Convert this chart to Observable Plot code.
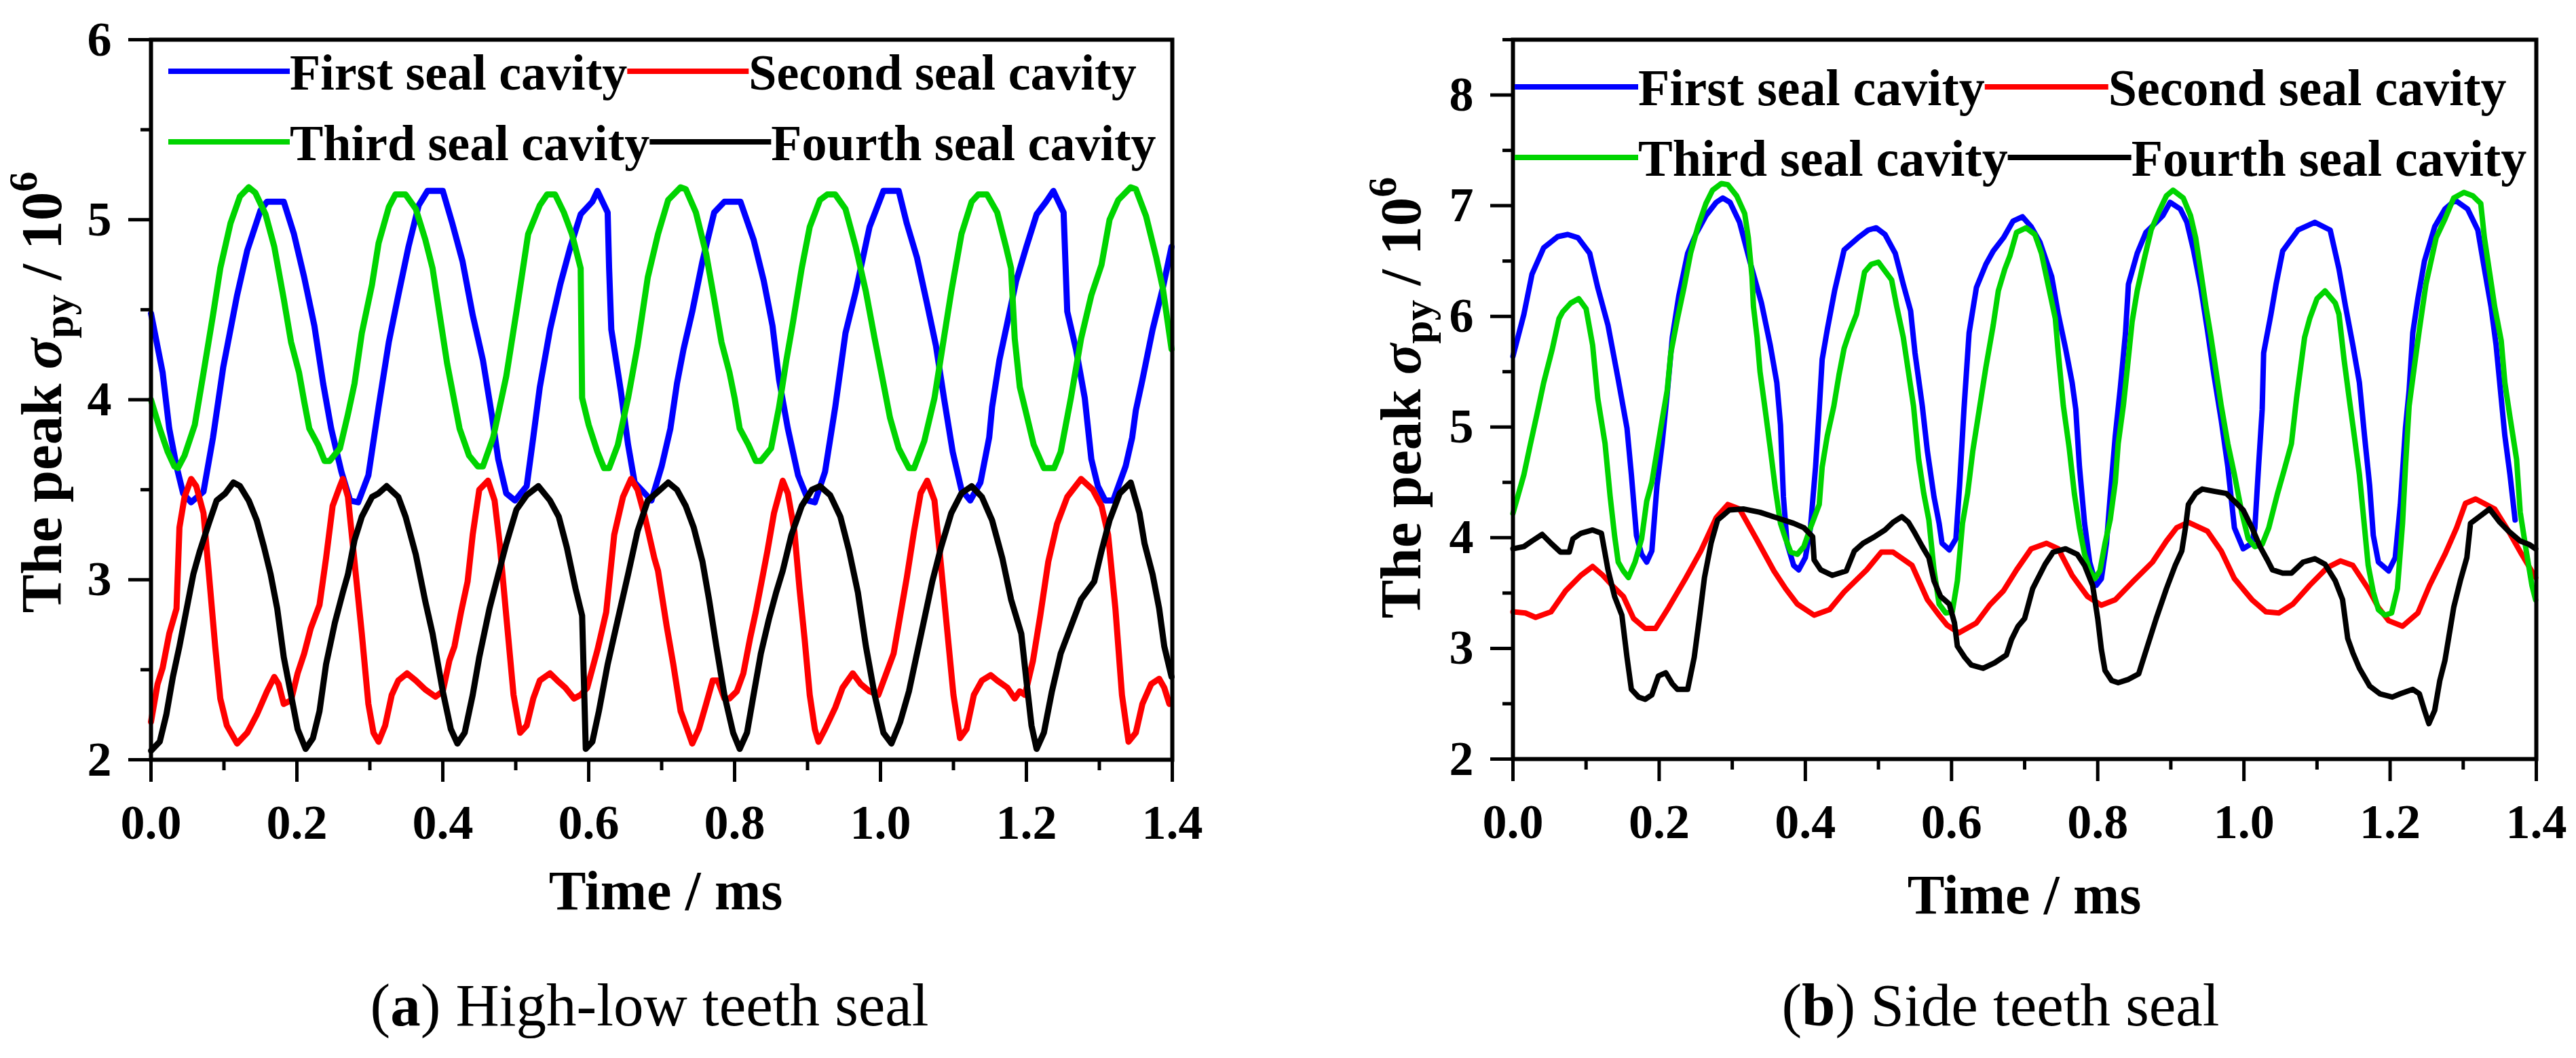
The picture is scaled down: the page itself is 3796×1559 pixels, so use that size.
<!DOCTYPE html>
<html><head><meta charset="utf-8">
<script src="https://cdn.jsdelivr.net/npm/d3@7"></script>
<script src="https://cdn.jsdelivr.net/npm/@observablehq/plot@0.6"></script>
<style>
body{margin:0;background:#fff;}
#page{position:relative;width:3796px;height:1559px;overflow:hidden;background:#fff;font-family:"Liberation Serif","Times New Roman",serif;}
.panel{position:absolute;top:0;}
.caption{position:absolute;top:1437px;font-size:89px;line-height:89px;white-space:nowrap;transform:translateX(-50%);color:#000;}
</style></head><body><div id="page"></div>
<script>
// ---------- tick labels ----------
const xMajor = [0, 0.2, 0.4, 0.6, 0.8, 1.0, 1.2, 1.4];
const xMinor = [0.1, 0.3, 0.5, 0.7, 0.9, 1.1, 1.3];
const yMajorA = [2, 3, 4, 5, 6];
const yMinorA = [2.5, 3.5, 4.5, 5.5];
const yMajorB = [2, 3, 4, 5, 6, 7, 8];
const yMinorB = [2.5, 3.5, 4.5, 5.5, 6.5, 7.5, 8.5];
const seriesNames = ["First seal cavity", "Second seal cavity", "Third seal cavity", "Fourth seal cavity"];
const seriesColors = ["#0000ff", "#ff0000", "#00d400", "#000000"];

// ---------- (a) High-low teeth seal : [time ms, peak sigma_py / 1e6] ----------
const aFirst = [[0,4.48],[0.016,4.15],[0.025,3.84],[0.035,3.63],[0.044,3.48],[0.055,3.43],[0.072,3.49],[0.085,3.79],[0.099,4.18],[0.118,4.58],[0.132,4.83],[0.150,5.05],[0.159,5.10],[0.182,5.10],[0.196,4.92],[0.210,4.68],[0.224,4.41],[0.236,4.09],[0.247,3.84],[0.261,3.60],[0.273,3.44],[0.284,3.43],[0.298,3.58],[0.312,3.96],[0.326,4.32],[0.339,4.58],[0.353,4.85],[0.367,5.08],[0.379,5.16],[0.400,5.16],[0.413,4.98],[0.427,4.77],[0.441,4.47],[0.455,4.22],[0.467,3.92],[0.476,3.67],[0.487,3.48],[0.499,3.44],[0.515,3.52],[0.524,3.79],[0.533,4.07],[0.547,4.39],[0.561,4.64],[0.575,4.85],[0.589,5.03],[0.605,5.10],[0.612,5.16],[0.626,5.04],[0.628,4.73],[0.631,4.39],[0.644,4.05],[0.654,3.75],[0.663,3.54],[0.686,3.44],[0.700,3.63],[0.712,3.84],[0.721,4.09],[0.730,4.28],[0.742,4.49],[0.756,4.77],[0.772,5.04],[0.786,5.10],[0.808,5.10],[0.826,4.89],[0.840,4.66],[0.852,4.41],[0.861,4.11],[0.873,3.84],[0.887,3.58],[0.901,3.44],[0.910,3.43],[0.924,3.60],[0.938,3.96],[0.952,4.37],[0.966,4.60],[0.985,4.96],[1.004,5.16],[1.025,5.16],[1.036,4.98],[1.050,4.79],[1.064,4.53],[1.076,4.30],[1.087,4.01],[1.099,3.71],[1.111,3.50],[1.123,3.44],[1.137,3.54],[1.149,3.79],[1.153,3.96],[1.163,4.22],[1.174,4.43],[1.186,4.66],[1.200,4.85],[1.214,5.03],[1.227,5.10],[1.237,5.16],[1.251,5.04],[1.256,4.49],[1.268,4.28],[1.280,4.01],[1.289,3.67],[1.298,3.52],[1.308,3.44],[1.319,3.44],[1.336,3.63],[1.345,3.79],[1.350,3.94],[1.359,4.11],[1.373,4.39],[1.387,4.62],[1.399,4.85]];
const aSecond = [[0,2.21],[0.009,2.42],[0.016,2.51],[0.025,2.70],[0.035,2.84],[0.039,3.29],[0.046,3.46],[0.055,3.56],[0.062,3.52],[0.072,3.37],[0.079,3.05],[0.088,2.63],[0.095,2.34],[0.104,2.19],[0.118,2.09],[0.132,2.15],[0.145,2.25],[0.159,2.38],[0.169,2.46],[0.175,2.42],[0.182,2.31],[0.192,2.33],[0.201,2.48],[0.210,2.59],[0.219,2.73],[0.231,2.86],[0.240,3.12],[0.249,3.41],[0.259,3.52],[0.263,3.56],[0.270,3.46],[0.279,3.10],[0.289,2.70],[0.298,2.31],[0.305,2.15],[0.312,2.10],[0.321,2.19],[0.330,2.36],[0.339,2.44],[0.351,2.48],[0.363,2.44],[0.376,2.39],[0.390,2.35],[0.400,2.38],[0.409,2.55],[0.416,2.63],[0.425,2.82],[0.434,2.99],[0.441,3.25],[0.450,3.50],[0.462,3.55],[0.471,3.44],[0.478,3.20],[0.487,2.80],[0.497,2.36],[0.506,2.15],[0.515,2.19],[0.524,2.34],[0.533,2.44],[0.547,2.48],[0.557,2.44],[0.568,2.40],[0.580,2.34],[0.589,2.36],[0.598,2.40],[0.612,2.61],[0.624,2.82],[0.635,3.25],[0.647,3.46],[0.658,3.56],[0.667,3.50],[0.677,3.35],[0.690,3.12],[0.695,3.05],[0.707,2.74],[0.716,2.53],[0.726,2.27],[0.735,2.17],[0.742,2.09],[0.751,2.17],[0.761,2.31],[0.770,2.44],[0.777,2.44],[0.786,2.34],[0.793,2.34],[0.803,2.38],[0.812,2.48],[0.821,2.67],[0.829,2.82],[0.838,3.01],[0.845,3.16],[0.854,3.37],[0.866,3.55],[0.873,3.48],[0.882,3.27],[0.889,2.95],[0.896,2.67],[0.903,2.36],[0.910,2.17],[0.915,2.10],[0.924,2.17],[0.938,2.29],[0.948,2.40],[0.962,2.48],[0.973,2.42],[0.985,2.38],[0.997,2.36],[1.008,2.48],[1.018,2.59],[1.027,2.80],[1.036,3.01],[1.046,3.27],[1.055,3.48],[1.064,3.55],[1.074,3.44],[1.081,3.16],[1.090,2.78],[1.100,2.36],[1.109,2.12],[1.118,2.17],[1.128,2.36],[1.139,2.44],[1.151,2.47],[1.160,2.44],[1.174,2.40],[1.184,2.34],[1.191,2.38],[1.198,2.36],[1.209,2.55],[1.219,2.80],[1.230,3.10],[1.242,3.31],[1.256,3.46],[1.275,3.56],[1.291,3.50],[1.303,3.41],[1.312,3.25],[1.322,2.84],[1.331,2.36],[1.340,2.10],[1.350,2.15],[1.359,2.31],[1.371,2.42],[1.382,2.45],[1.389,2.40],[1.396,2.31]];
const aThird = [[0,4.00],[0.012,3.84],[0.023,3.71],[0.032,3.63],[0.037,3.62],[0.046,3.69],[0.060,3.86],[0.072,4.15],[0.085,4.47],[0.095,4.73],[0.109,4.98],[0.122,5.13],[0.134,5.18],[0.143,5.15],[0.157,5.03],[0.169,4.85],[0.182,4.56],[0.192,4.32],[0.203,4.15],[0.210,3.99],[0.217,3.84],[0.229,3.75],[0.238,3.66],[0.245,3.66],[0.259,3.73],[0.270,3.92],[0.279,4.09],[0.289,4.37],[0.303,4.64],[0.312,4.87],[0.326,5.07],[0.335,5.14],[0.349,5.14],[0.363,5.06],[0.376,4.89],[0.386,4.73],[0.395,4.49],[0.406,4.20],[0.423,3.84],[0.436,3.69],[0.448,3.63],[0.455,3.63],[0.469,3.79],[0.478,3.96],[0.487,4.13],[0.501,4.49],[0.517,4.92],[0.533,5.08],[0.543,5.14],[0.554,5.14],[0.566,5.04],[0.577,4.92],[0.589,4.73],[0.591,4.01],[0.600,3.86],[0.612,3.71],[0.621,3.62],[0.628,3.62],[0.640,3.75],[0.654,4.01],[0.667,4.30],[0.681,4.68],[0.695,4.92],[0.709,5.11],[0.726,5.18],[0.733,5.17],[0.747,5.04],[0.761,4.81],[0.772,4.56],[0.782,4.32],[0.793,4.15],[0.800,4.01],[0.807,3.84],[0.819,3.75],[0.829,3.66],[0.836,3.66],[0.850,3.73],[0.861,3.96],[0.871,4.22],[0.880,4.43],[0.892,4.73],[0.903,4.96],[0.917,5.11],[0.927,5.14],[0.938,5.14],[0.952,5.06],[0.966,4.85],[0.980,4.60],[0.992,4.34],[1.004,4.09],[1.013,3.90],[1.025,3.73],[1.039,3.62],[1.046,3.62],[1.060,3.77],[1.074,4.01],[1.088,4.37],[1.097,4.60],[1.111,4.92],[1.125,5.10],[1.134,5.14],[1.146,5.14],[1.160,5.04],[1.172,4.85],[1.179,4.73],[1.184,4.34],[1.191,4.07],[1.200,3.92],[1.210,3.75],[1.224,3.62],[1.238,3.62],[1.247,3.71],[1.261,4.01],[1.275,4.34],[1.289,4.58],[1.303,4.75],[1.314,5.00],[1.326,5.11],[1.343,5.18],[1.350,5.17],[1.364,5.02],[1.378,4.79],[1.387,4.62],[1.399,4.28]];
const aFourth = [[0,2.05],[0.012,2.10],[0.021,2.25],[0.030,2.46],[0.039,2.63],[0.048,2.82],[0.058,3.03],[0.067,3.16],[0.079,3.31],[0.090,3.44],[0.102,3.48],[0.113,3.54],[0.122,3.52],[0.134,3.44],[0.145,3.33],[0.155,3.18],[0.164,3.03],[0.173,2.84],[0.182,2.57],[0.192,2.36],[0.201,2.17],[0.212,2.06],[0.222,2.12],[0.231,2.27],[0.240,2.53],[0.252,2.76],[0.263,2.93],[0.270,3.03],[0.279,3.22],[0.289,3.35],[0.303,3.46],[0.312,3.48],[0.323,3.52],[0.339,3.46],[0.349,3.35],[0.363,3.14],[0.376,2.88],[0.386,2.70],[0.400,2.38],[0.411,2.17],[0.420,2.09],[0.430,2.15],[0.441,2.36],[0.450,2.57],[0.464,2.84],[0.476,3.03],[0.487,3.20],[0.501,3.39],[0.515,3.47],[0.531,3.52],[0.547,3.44],[0.559,3.35],[0.570,3.18],[0.582,2.95],[0.591,2.80],[0.596,2.06],[0.605,2.10],[0.614,2.27],[0.626,2.53],[0.640,2.78],[0.654,3.03],[0.667,3.27],[0.681,3.44],[0.698,3.50],[0.709,3.54],[0.721,3.50],[0.733,3.41],[0.744,3.29],[0.756,3.10],[0.765,2.89],[0.775,2.63],[0.786,2.36],[0.798,2.15],[0.807,2.06],[0.817,2.15],[0.826,2.36],[0.836,2.59],[0.847,2.78],[0.857,2.93],[0.866,3.05],[0.878,3.25],[0.892,3.41],[0.906,3.50],[0.917,3.52],[0.931,3.47],[0.945,3.35],[0.957,3.16],[0.969,2.93],[0.980,2.63],[0.992,2.36],[1.004,2.15],[1.015,2.09],[1.027,2.21],[1.039,2.38],[1.050,2.59],[1.060,2.78],[1.071,2.99],[1.083,3.18],[1.097,3.37],[1.111,3.48],[1.125,3.52],[1.139,3.46],[1.153,3.33],[1.167,3.12],[1.179,2.89],[1.193,2.70],[1.200,2.44],[1.207,2.19],[1.214,2.06],[1.224,2.15],[1.235,2.38],[1.247,2.59],[1.261,2.74],[1.275,2.89],[1.293,2.99],[1.303,3.16],[1.314,3.33],[1.328,3.48],[1.343,3.54],[1.355,3.37],[1.362,3.20],[1.373,3.03],[1.382,2.84],[1.389,2.63],[1.399,2.46]];

// ---------- (b) Side teeth seal ----------
const bFirst = [[0,5.64],[0.015,6.02],[0.026,6.38],[0.042,6.62],[0.061,6.72],[0.075,6.74],[0.089,6.71],[0.105,6.57],[0.116,6.26],[0.130,5.92],[0.144,5.43],[0.156,4.99],[0.162,4.57],[0.169,4.02],[0.176,3.85],[0.183,3.78],[0.190,3.88],[0.197,4.47],[0.204,4.85],[0.211,5.30],[0.218,5.81],[0.227,6.19],[0.239,6.57],[0.250,6.74],[0.264,6.91],[0.278,7.03],[0.287,7.07],[0.297,7.03],[0.310,6.85],[0.324,6.50],[0.340,6.12],[0.352,5.74],[0.361,5.40],[0.366,5.02],[0.370,4.37],[0.375,3.95],[0.384,3.75],[0.391,3.71],[0.400,3.82],[0.407,4.09],[0.414,4.64],[0.419,5.16],[0.423,5.61],[0.430,5.88],[0.440,6.23],[0.453,6.60],[0.472,6.71],[0.486,6.78],[0.497,6.80],[0.509,6.74],[0.523,6.57],[0.534,6.29],[0.544,6.05],[0.550,5.67],[0.560,5.19],[0.567,4.78],[0.576,4.37],[0.583,4.13],[0.587,3.95],[0.597,3.89],[0.606,3.99],[0.611,4.47],[0.617,5.16],[0.624,5.85],[0.634,6.26],[0.647,6.47],[0.657,6.59],[0.671,6.71],[0.684,6.86],[0.697,6.90],[0.709,6.81],[0.721,6.67],[0.737,6.36],[0.746,6.02],[0.756,5.71],[0.765,5.40],[0.770,5.16],[0.775,4.64],[0.782,4.13],[0.789,3.78],[0.798,3.57],[0.805,3.63],[0.812,3.95],[0.817,4.37],[0.824,4.92],[0.831,5.36],[0.838,5.85],[0.842,6.29],[0.854,6.57],[0.866,6.76],[0.880,6.85],[0.889,6.91],[0.899,7.03],[0.913,6.97],[0.922,6.85],[0.931,6.60],[0.941,6.26],[0.950,5.88],[0.959,5.47],[0.969,5.06],[0.978,4.64],[0.987,4.09],[0.999,3.90],[1.011,3.95],[1.015,4.09],[1.020,4.64],[1.025,5.16],[1.027,5.67],[1.037,6.02],[1.044,6.29],[1.053,6.59],[1.074,6.78],[1.097,6.85],[1.118,6.78],[1.130,6.43],[1.139,6.09],[1.149,5.74],[1.158,5.40],[1.165,4.92],[1.172,4.47],[1.177,4.02],[1.184,3.78],[1.198,3.70],[1.207,3.82],[1.214,4.30],[1.221,4.99],[1.226,5.33],[1.231,5.85],[1.238,6.16],[1.247,6.50],[1.261,6.81],[1.275,6.97],[1.289,7.05],[1.306,6.97],[1.320,6.78],[1.329,6.43],[1.338,6.09],[1.345,5.74],[1.352,5.26],[1.357,4.92],[1.364,4.57],[1.371,4.16]];
const bSecond = [[0,3.33],[0.017,3.32],[0.031,3.28],[0.052,3.33],[0.072,3.52],[0.093,3.66],[0.109,3.74],[0.123,3.66],[0.137,3.56],[0.151,3.47],[0.165,3.27],[0.181,3.18],[0.195,3.18],[0.213,3.37],[0.236,3.63],[0.257,3.88],[0.278,4.18],[0.294,4.30],[0.310,4.26],[0.333,3.99],[0.357,3.70],[0.373,3.54],[0.389,3.40],[0.412,3.30],[0.433,3.35],[0.453,3.51],[0.484,3.71],[0.504,3.87],[0.520,3.87],[0.546,3.75],[0.567,3.44],[0.583,3.30],[0.594,3.21],[0.610,3.14],[0.634,3.23],[0.652,3.39],[0.671,3.52],[0.689,3.71],[0.709,3.90],[0.730,3.95],[0.746,3.90],[0.765,3.66],[0.786,3.47],[0.805,3.39],[0.824,3.44],[0.849,3.61],[0.875,3.78],[0.894,3.97],[0.908,4.09],[0.924,4.14],[0.950,4.06],[0.969,3.88],[0.987,3.63],[1.011,3.44],[1.030,3.33],[1.048,3.32],[1.067,3.40],[1.090,3.57],[1.114,3.73],[1.132,3.79],[1.149,3.75],[1.170,3.54],[1.184,3.37],[1.198,3.25],[1.217,3.20],[1.238,3.32],[1.254,3.57],[1.275,3.85],[1.291,4.09],[1.303,4.31],[1.317,4.35],[1.343,4.26],[1.362,4.06],[1.380,3.85],[1.399,3.64]];
const bThird = [[0,4.22],[0.015,4.57],[0.024,4.85],[0.033,5.12],[0.042,5.40],[0.054,5.71],[0.063,5.98],[0.068,6.04],[0.079,6.12],[0.090,6.16],[0.100,6.07],[0.109,5.74],[0.116,5.26],[0.126,4.85],[0.133,4.37],[0.139,4.02],[0.144,3.78],[0.151,3.70],[0.158,3.64],[0.167,3.78],[0.176,3.99],[0.183,4.33],[0.190,4.50],[0.197,4.78],[0.204,5.06],[0.211,5.33],[0.216,5.67],[0.225,5.98],[0.234,6.26],[0.243,6.57],[0.253,6.81],[0.264,7.02],[0.273,7.14],[0.285,7.20],[0.294,7.19],[0.306,7.09],[0.317,6.93],[0.322,6.71],[0.327,6.36],[0.329,6.09],[0.334,5.81],[0.338,5.50],[0.345,5.16],[0.352,4.81],[0.359,4.44],[0.366,4.13],[0.373,3.99],[0.380,3.87],[0.389,3.85],[0.398,3.92],[0.407,4.09],[0.419,4.30],[0.423,4.64],[0.430,4.92],[0.439,5.19],[0.446,5.47],[0.453,5.71],[0.460,5.85],[0.470,6.02],[0.481,6.40],[0.490,6.47],[0.500,6.49],[0.509,6.41],[0.518,6.33],[0.525,6.09],[0.534,5.81],[0.541,5.50],[0.548,5.19],[0.555,4.71],[0.562,4.40],[0.569,4.16],[0.576,3.71],[0.583,3.40],[0.592,3.32],[0.601,3.33],[0.608,3.61],[0.615,4.13],[0.622,4.40],[0.629,4.78],[0.638,5.16],[0.647,5.54],[0.657,5.92],[0.664,6.23],[0.673,6.43],[0.680,6.55],[0.689,6.76],[0.702,6.80],[0.714,6.74],[0.723,6.57],[0.732,6.29],[0.742,5.98],[0.746,5.67],[0.753,5.19],[0.761,4.81],[0.768,4.40],[0.775,4.09],[0.782,3.85],[0.789,3.71],[0.796,3.63],[0.803,3.70],[0.810,3.95],[0.817,4.16],[0.824,4.50],[0.828,4.85],[0.835,5.19],[0.840,5.50],[0.847,5.95],[0.854,6.23],[0.863,6.50],[0.873,6.78],[0.884,6.95],[0.894,7.09],[0.903,7.14],[0.917,7.07],[0.927,6.91],[0.934,6.71],[0.941,6.40],[0.948,6.09],[0.955,5.81],[0.962,5.50],[0.969,5.19],[0.978,4.85],[0.987,4.57],[0.997,4.23],[1.006,3.99],[1.015,3.92],[1.025,3.94],[1.034,4.09],[1.046,4.40],[1.055,4.61],[1.065,4.85],[1.072,5.26],[1.079,5.61],[1.083,5.81],[1.090,5.98],[1.100,6.16],[1.111,6.23],[1.125,6.12],[1.130,6.02],[1.137,5.61],[1.144,5.26],[1.151,4.92],[1.158,4.57],[1.163,4.23],[1.170,3.75],[1.177,3.51],[1.184,3.35],[1.193,3.30],[1.202,3.32],[1.210,3.54],[1.217,4.13],[1.221,4.64],[1.226,5.19],[1.233,5.54],[1.240,5.88],[1.249,6.29],[1.263,6.71],[1.275,6.88],[1.287,7.07],[1.301,7.12],[1.313,7.09],[1.324,7.02],[1.329,6.71],[1.336,6.40],[1.343,6.09],[1.352,5.78],[1.357,5.40],[1.364,5.09],[1.373,4.71],[1.378,4.23],[1.387,3.85],[1.394,3.57],[1.399,3.44]];
const bFourth = [[0,3.90],[0.015,3.92],[0.026,3.97],[0.040,4.03],[0.052,3.95],[0.065,3.87],[0.077,3.87],[0.082,3.99],[0.093,4.04],[0.109,4.07],[0.121,4.04],[0.130,3.71],[0.139,3.47],[0.149,3.30],[0.156,2.92],[0.162,2.63],[0.172,2.56],[0.181,2.54],[0.190,2.58],[0.199,2.75],[0.209,2.78],[0.218,2.68],[0.225,2.63],[0.239,2.63],[0.248,2.92],[0.255,3.27],[0.262,3.64],[0.271,3.95],[0.280,4.16],[0.296,4.25],[0.315,4.26],[0.338,4.23],[0.361,4.18],[0.384,4.13],[0.398,4.09],[0.410,4.01],[0.412,3.80],[0.421,3.71],[0.437,3.66],[0.456,3.70],[0.467,3.88],[0.479,3.95],[0.495,4.01],[0.509,4.07],[0.520,4.14],[0.532,4.19],[0.541,4.14],[0.550,4.04],[0.560,3.92],[0.569,3.82],[0.576,3.61],[0.585,3.47],[0.597,3.40],[0.604,3.23],[0.608,3.02],[0.618,2.92],[0.627,2.85],[0.643,2.82],[0.659,2.87],[0.675,2.94],[0.682,3.08],[0.691,3.20],[0.700,3.27],[0.711,3.54],[0.728,3.76],[0.739,3.87],[0.756,3.90],[0.772,3.85],[0.782,3.75],[0.793,3.57],[0.800,3.27],[0.805,2.99],[0.810,2.80],[0.819,2.71],[0.828,2.69],[0.842,2.72],[0.856,2.77],[0.868,3.02],[0.880,3.27],[0.894,3.54],[0.906,3.75],[0.915,3.88],[0.920,4.09],[0.924,4.30],[0.934,4.40],[0.943,4.44],[0.959,4.42],[0.976,4.40],[0.987,4.33],[0.999,4.25],[1.011,4.09],[1.022,3.92],[1.032,3.80],[1.039,3.71],[1.053,3.68],[1.065,3.68],[1.081,3.78],[1.097,3.81],[1.111,3.76],[1.125,3.61],[1.135,3.44],[1.142,3.09],[1.149,2.96],[1.158,2.82],[1.172,2.66],[1.186,2.59],[1.203,2.56],[1.214,2.59],[1.231,2.63],[1.240,2.59],[1.247,2.44],[1.253,2.32],[1.261,2.44],[1.268,2.71],[1.275,2.89],[1.280,3.09],[1.287,3.37],[1.296,3.61],[1.305,3.82],[1.310,4.13],[1.322,4.19],[1.336,4.26],[1.350,4.14],[1.362,4.06],[1.378,3.97],[1.390,3.94],[1.399,3.90]];

// ---------- drawing ----------
const FONT = '"Liberation Serif", "Times New Roman", serif';
const page = document.getElementById("page");

function drawPanel(cfg) {
  const H = 1400;
  const series = [cfg.data[0], cfg.data[1], cfg.data[2], cfg.data[3]];
  const lineMarks = series.map((s, i) =>
    Plot.line(s, {x: d => d[0], y: d => d[1], stroke: seriesColors[i], strokeWidth: cfg.lw, strokeLinejoin: "round"}));
  const chart = Plot.plot({
    width: cfg.width, height: H,
    marginLeft: cfg.ml, marginRight: cfg.mr, marginTop: 58, marginBottom: H - cfg.bottom,
    x: {domain: [0, 1.4]},
    y: {domain: cfg.yDomain},
    style: {fontFamily: FONT, fontWeight: "bold", background: "white", color: "black", overflow: "visible"},
    marks: [
      ...lineMarks,
      Plot.frame({strokeWidth: 6}),
      Plot.axisX({ticks: xMajor, tickSize: 33, tickPadding: 32, tickFormat: d => d.toFixed(1), fontSize: 72, fontWeight: "bold", strokeWidth: 5, label: null}),
      Plot.axisX({ticks: xMinor, tickSize: 16, strokeWidth: 5, fill: "none", label: null}),
      Plot.axisY({ticks: cfg.yMajor, tickSize: 33, tickPadding: 25, tickFormat: d => String(d), fontSize: 72, fontWeight: "bold", strokeWidth: 5, label: null}),
      Plot.axisY({ticks: cfg.yMinor, tickSize: 15, strokeWidth: 5, fill: "none", label: null})
    ]
  });
  const wrap = document.createElement("div");
  wrap.className = "panel";
  wrap.style.left = cfg.left + "px";
  wrap.appendChild(chart);
  page.appendChild(wrap);

  const svg = d3.select(chart);
  // x-axis title
  svg.append("text").attr("x", cfg.xTitle[0]).attr("y", cfg.xTitle[1])
    .attr("text-anchor", "middle").attr("font-family", FONT).attr("font-weight", "bold")
    .attr("font-size", 82).attr("fill", "black").text("Time / ms");
  // y-axis title with subscript and superscript
  const yt = svg.append("text")
    .attr("transform", `translate(${cfg.yTitle[0]},${cfg.yTitle[1]}) rotate(-90)`)
    .attr("text-anchor", "middle").attr("font-family", FONT).attr("font-weight", "bold")
    .attr("font-size", 85).attr("fill", "black");
  yt.append("tspan").text("The peak ");
  yt.append("tspan").attr("font-style", "italic").text("σ");
  yt.append("tspan").attr("font-size", 61).attr("dy", 17).text("py");
  yt.append("tspan").attr("dy", -17).text(" / 10");
  yt.append("tspan").attr("font-size", 60).attr("dy", -36).text("6");

  // legend (two rows, two items each)
  const lg = svg.append("g").attr("font-family", FONT).attr("font-weight", "bold")
    .attr("font-size", cfg.lfs).attr("text-anchor", "start");
  const L = cfg.legendLine;
  cfg.legendRows.forEach(row => {
    let x = cfg.legendX;
    const y = row.y;
    row.items.forEach(i => {
      lg.append("line").attr("x1", x).attr("x2", x + L).attr("y1", y).attr("y2", y)
        .attr("stroke", seriesColors[i]).attr("stroke-width", 8);
      const t = lg.append("text").attr("x", x + L).attr("y", y + 27)
        .attr("text-anchor", "start").attr("fill", "black").text(seriesNames[i]);
      x += L + t.node().getComputedTextLength();
    });
  });
}

drawPanel({
  left: 0, width: 1780, ml: 222, mr: 53, bottom: 1119, lw: 9,
  yDomain: [2, 6], yMajor: yMajorA, yMinor: yMinorA,
  data: [aFirst, aSecond, aThird, aFourth],
  xTitle: [981, 1340], yTitle: [90, 578],
  lfs: 74, legendLine: 179, legendX: 248,
  legendRows: [{y: 105, items: [0, 1]}, {y: 209, items: [2, 3]}]
});
drawPanel({
  left: 1880, width: 1916, ml: 349, mr: 59, bottom: 1118, lw: 8,
  yDomain: [2, 8.5], yMajor: yMajorB, yMinor: yMinorB,
  data: [bFirst, bSecond, bThird, bFourth],
  xTitle: [1103, 1346], yTitle: [213, 586],
  lfs: 76, legendLine: 182, legendX: 352,
  legendRows: [{y: 128, items: [0, 1]}, {y: 232, items: [2, 3]}]
});

// captions
function caption(cx, letter, rest) {
  const d = document.createElement("div");
  d.className = "caption";
  d.style.left = cx + "px";
  d.innerHTML = `(<b>${letter}</b>) ${rest}`;
  page.appendChild(d);
}
caption(957, "a", "High-low teeth seal");
caption(2948, "b", "Side teeth seal");
</script>
</body></html>
